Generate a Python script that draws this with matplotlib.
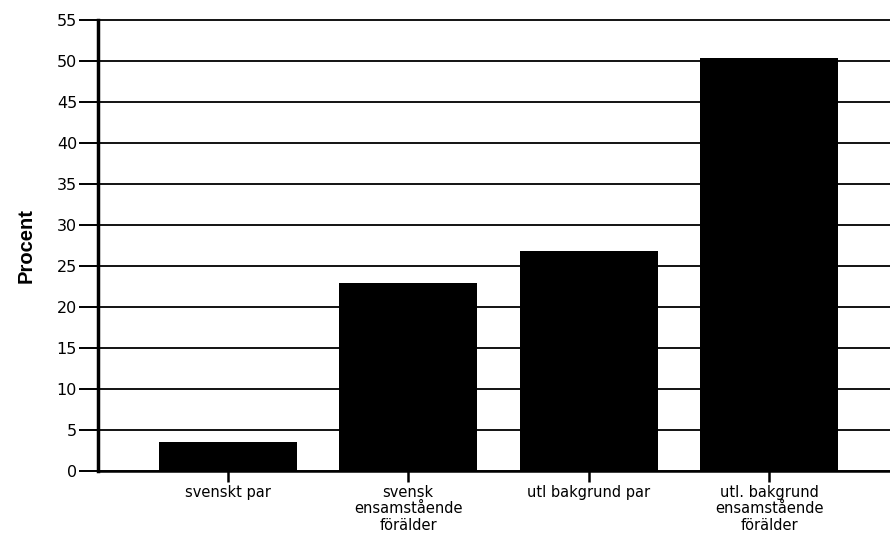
import matplotlib
matplotlib.use("Agg")
import matplotlib.pyplot as plt
import numpy as np

categories = ["svenskt par", "svensk\nensamstående\nförälder",
              "utl bakgrund par", "utl. bakgrund\nensamstående\nförälder"]
values = [3.55, 22.9, 26.85, 50.35]
yticks = list(range(0, 56, 5))

plt.rcParams['font.family'] = ['DejaVu Sans']

fig = plt.figure(figsize=(8.9, 5.34), dpi=100)
ax = fig.add_axes([0.110, 0.118, 0.890, 0.845])

x = np.arange(len(categories))
ax.set_axisbelow(True)
ax.bar(x, values, width=0.765, color='black', zorder=3)

ax.set_xlim(-0.72, 3.67)
ax.set_ylim(0, 55)
ax.set_yticks(yticks)
ax.set_xticks(x)
ax.set_xticklabels(categories, fontsize=10.5, linespacing=1.12)
ax.tick_params(axis='y', length=14, width=1.4, labelsize=11.5, pad=1)
ax.tick_params(axis='x', length=8, width=1.8, pad=2)
ax.yaxis.grid(True, color='black', linewidth=1.3, zorder=1)
for line in ax.yaxis.get_gridlines():
    line.set_clip_on(False)

for s in ['top', 'right']:
    ax.spines[s].set_visible(False)
ax.spines['left'].set_linewidth(2.5)
ax.spines['bottom'].set_linewidth(1.8)

ax.set_ylabel("Procent", fontsize=14.5, fontweight='bold',
              family=['Liberation Sans', 'DejaVu Sans'])
ax.yaxis.set_label_coords(-0.078, 0.5)

fig.savefig("out.png", dpi=100)
